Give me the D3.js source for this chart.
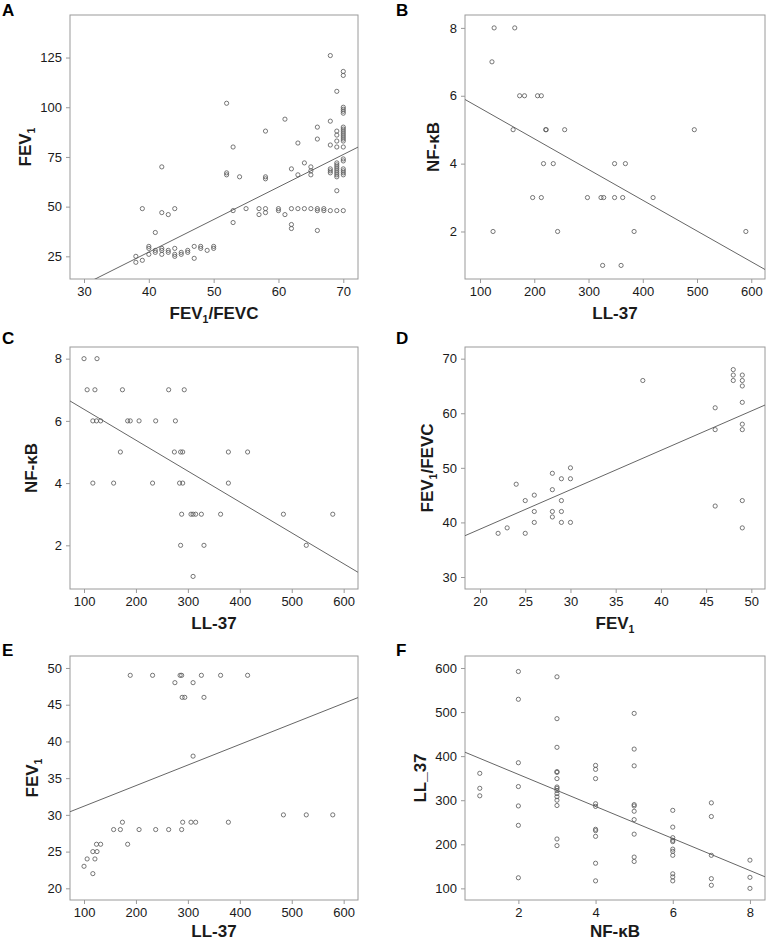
<!DOCTYPE html>
<html><head><meta charset="utf-8">
<script src="https://cdn.jsdelivr.net/npm/d3@7"></script>
<style>
html,body{margin:0;padding:0;background:#fff;}
svg{display:block;font-family:"Liberation Sans",Arial,sans-serif;}
</style></head>
<body>
<svg id="c" width="766" height="942"></svg>
<script>
// ---------- DATA ----------
// Panel A: FEV1/FEVC (x) vs FEV1 (y)
const aX = [38,38,39,39,40,40,40,41,41,41,42,42,42,42,42,43,43,43,44,44,44,44,45,45,46,46,47,47,48,48,49,50,50,
  52,52,52,53,53,53,54,55,57,57,58,58,58,58,58,60,60,61,61,62,62,62,62,63,63,63,64,64,65,65,65,65,
  66,66,66,66,66,67,67,68,68,68,68,68,68,68,
  69,69,69,69,69,69,69,69,69,69,69,69,69,69,69,
  70,70,70,70,70,70,70,70,70,70,70,70,70,70,70,70,70,70,70,70,70,70];
const aY = [25,22,23,49,30,29,26,37,28,27,70,47,29,28,26,46,28,27,49,29,26,25,27,26,28,27,30,24,30,29,28,30,29,
  102,67,66,80,48,42,65,49,49,46,88,65,64,49,47,49,48,94,46,69,49,41,39,82,66,49,72,49,70,68,66,49,
  90,84,49,48,38,49,48,126,93,81,69,68,67,48,
  108,88,86,83,80,72,71,70,69,68,67,66,65,58,48,
  118,116,100,99,98,97,90,89,88,87,86,85,84,83,80,74,73,69,68,67,66,48];
const aTicksX = [30,40,50,60,70];
const aTicksY = [25,50,75,100,125];
const aFit = [-38.3, 1.636]; // intercept, slope

// Panel B: LL-37 (x) vs NF-kB (y)
const bX = [126,164,122,173,182,206,213,161,221,222,256,217,235,197,213,124,243,298,323,328,348,363,348,368,419,384,326,360,495,590];
const bY = [8,8,7,6,6,6,6,5,5,5,5,4,4,3,3,2,2,3,3,3,3,3,4,4,3,2,1,1,5,2];
const bTicksX = [100,200,300,400,500,600];
const bTicksY = [2,4,6,8];
const bFit = [6.545, -0.00906];

// Panel C: LL-37 (x) vs NF-kB (y)
const cX = [100,125,106,121,174,263,293,117,124,132,184,189,206,238,276,170,274,286,290,378,415,117,157,232,284,290,378,288,306,310,315,326,363,484,579,286,331,528,310];
const cY = [8,8,7,7,7,7,7,6,6,6,6,6,6,6,6,5,5,5,5,5,5,4,4,4,4,4,4,3,3,3,3,3,3,3,3,2,2,2,1];
const cTicksX = [100,200,300,400,500,600];
const cTicksY = [2,4,6,8];
const cFit = [7.365, -0.00993];

// Panel D: FEV1 (x) vs FEV1/FEVC (y)
const dX = [22,23,24,25,25,26,26,26,28,28,28,28,29,29,29,29,30,30,30,38,46,46,46,48,48,48,49,49,49,49,49,49,49,49];
const dY = [38,39,47,44,38,45,42,40,49,46,42,41,48,44,42,40,50,48,40,66,61,57,43,68,67,66,67,66,65,62,58,57,44,39];
const dTicksX = [20,25,30,35,40,45,50];
const dTicksY = [30,40,50,60,70];
const dFit = [24.33, 0.7217];

// Panel E: LL-37 (x) vs FEV1 (y)
const eX = [189,232,285,288,326,363,415,275,310,289,294,331,310,484,528,579,174,290,306,315,378,157,170,206,238,263,288,184,124,132,117,125,106,121,100,117];
const eY = [49,49,49,49,49,49,49,48,48,46,46,46,38,30,30,30,29,29,29,29,29,28,28,28,28,28,28,26,26,26,25,25,24,24,23,22];
const eTicksX = [100,200,300,400,500,600];
const eTicksY = [20,25,30,35,40,45,50];
const eFit = [28.38, 0.02802];

// Panel F: NF-kB (x) vs LL_37 (y)
const fX = [1,1,1,
  2,2,2,2,2,2,2,
  3,3,3,3,3,3,3,3,3,3,3,3,3,3,3,
  4,4,4,4,4,4,4,4,4,4,
  5,5,5,5,5,5,5,5,5,5,
  6,6,6,6,6,6,6,6,6,6,6,
  7,7,7,7,7,
  8,8,8];
const fY = [361,327,310,
  592,529,385,331,287,243,124,
  580,485,420,365,363,349,330,327,322,315,308,300,288,212,197,
  379,370,349,292,286,234,231,218,157,117,
  497,416,378,290,287,275,256,223,171,161,
  277,239,215,209,206,189,184,175,133,126,117,
  294,263,175,122,107,
  164,125,100];
const fTicksX = [2,4,6,8];
const fTicksY = [100,200,300,400,500,600];
const fFit = [431.3, -36.36];

// ---------- LAYOUT ----------
const svg = d3.select("#c");
const panels = [
  {id:"A", box:[70,15,358,279], xd:[27.84,72.27], yd:[13.6,146.4], X:aX, Y:aY, tx:aTicksX, ty:aTicksY, fit:aFit,
   xt:[["FEV"],["1",1],["/FEVC"]], yt:[["FEV"],["1",1]], ytOff:-45, xtOff:40, lx:2, ly:16},
  {id:"B", box:[465,15,765,279], xd:[72.3,625.3], yd:[0.60,8.38], X:bX, Y:bY, tx:bTicksX, ty:bTicksY, fit:bFit,
   xt:[["LL-37"]], yt:[["NF-κB"]], ytOff:-32, xtOff:40, lx:396, ly:16},
  {id:"C", box:[70,347,358,589], xd:[73,627.6], yd:[0.596,8.375], X:cX, Y:cY, tx:cTicksX, ty:cTicksY, fit:cFit,
   xt:[["LL-37"]], yt:[["NF-κB"]], ytOff:-39, xtOff:40, lx:2, ly:344},
  {id:"D", box:[465,347,765,589], xd:[18.34,51.51], yd:[27.8,72.14], X:dX, Y:dY, tx:dTicksX, ty:dTicksY, fit:dFit,
   xt:[["FEV"],["1",1]], yt:[["FEV"],["1",1],["/FEVC"]], ytOff:-38, xtOff:40, lx:396, ly:344},
  {id:"E", box:[70,656,358,900], xd:[73,627.6], yd:[18.41,51.63], X:eX, Y:eY, tx:eTicksX, ty:eTicksY, fit:eFit,
   xt:[["LL-37"]], yt:[["FEV"],["1",1]], ytOff:-38, xtOff:37, lx:2, ly:656},
  {id:"F", box:[465,656,765,900], xd:[0.617,8.39], yd:[73.6,627.2], X:fX, Y:fY, tx:fTicksX, ty:fTicksY, fit:fFit,
   xt:[["NF-κB"]], yt:[["LL_37"]], ytOff:-45, xtOff:37, lx:396, ly:656}
];

function richText(sel, parts, size){
  parts.forEach((p,k)=>{
    if(p[1]){
      sel.append("tspan").attr("font-size", size*0.62).attr("dy", size*0.22).text(p[0]);
    } else {
      const t = sel.append("tspan").text(p[0]);
      if(k>0) t.attr("dy", -size*0.22);
    }
  });
}

const frameCol = "#9a9a9a", txtCol = "#1a1a1a", markCol = "#555";

panels.forEach((p,i)=>{
  const [x0,y0,x1,y1] = p.box;
  const x = d3.scaleLinear().domain(p.xd).range([x0,x1]);
  const y = d3.scaleLinear().domain(p.yd).range([y1,y0]);
  const g = svg.append("g");

  const cid = "clip"+p.id;
  svg.append("clipPath").attr("id",cid).append("rect")
    .attr("x",x0).attr("y",y0).attr("width",x1-x0).attr("height",y1-y0);

  const xa = g.append("g").attr("transform",`translate(0,${y1})`)
    .call(d3.axisBottom(x).tickValues(p.tx).tickSize(4).tickPadding(4).tickFormat(d3.format("d")));
  const ya = g.append("g").attr("transform",`translate(${x0},0)`)
    .call(d3.axisLeft(y).tickValues(p.ty).tickSize(4).tickPadding(4).tickFormat(d3.format("d")));
  [xa,ya].forEach(a=>{
    a.select(".domain").remove();
    a.selectAll(".tick line").attr("stroke",frameCol);
    a.selectAll(".tick text").attr("fill",txtCol).attr("font-size",13)
      .attr("font-family",'"Liberation Sans",Arial,sans-serif');
  });

  g.append("rect").attr("x",x0).attr("y",y0).attr("width",x1-x0).attr("height",y1-y0)
    .attr("fill","none").attr("stroke",frameCol).attr("stroke-width",1);

  const [b0,b1] = p.fit;
  g.append("line").attr("clip-path",`url(#${cid})`)
    .attr("x1",x(p.xd[0])).attr("y1",y(b0+b1*p.xd[0]))
    .attr("x2",x(p.xd[1])).attr("y2",y(b0+b1*p.xd[1]))
    .attr("stroke","#666").attr("stroke-width",1);

  g.append("g").selectAll("circle").data(p.X.map((v,k)=>[v,p.Y[k]])).join("circle")
    .attr("cx",d=>x(d[0])).attr("cy",d=>y(d[1])).attr("r",2.1)
    .attr("fill","none").attr("stroke",markCol).attr("stroke-width",0.8);

  const xt = g.append("text").attr("x",(x0+x1)/2).attr("y",y1+p.xtOff)
    .attr("text-anchor","middle").attr("font-weight","bold").attr("font-size",17).attr("fill",txtCol);
  richText(xt, p.xt, 17);

  const cx = x0 + p.ytOff, cy = (y0+y1)/2;
  const yt = g.append("text").attr("transform",`translate(${cx+6},${cy}) rotate(-90)`)
    .attr("text-anchor","middle").attr("font-weight","bold").attr("font-size",17).attr("fill",txtCol);
  richText(yt, p.yt, 17);

  g.append("text").attr("x",p.lx).attr("y",p.ly).attr("font-weight","bold")
    .attr("font-size",17).attr("fill","#000").text(p.id);
});
</script>
</body></html>
